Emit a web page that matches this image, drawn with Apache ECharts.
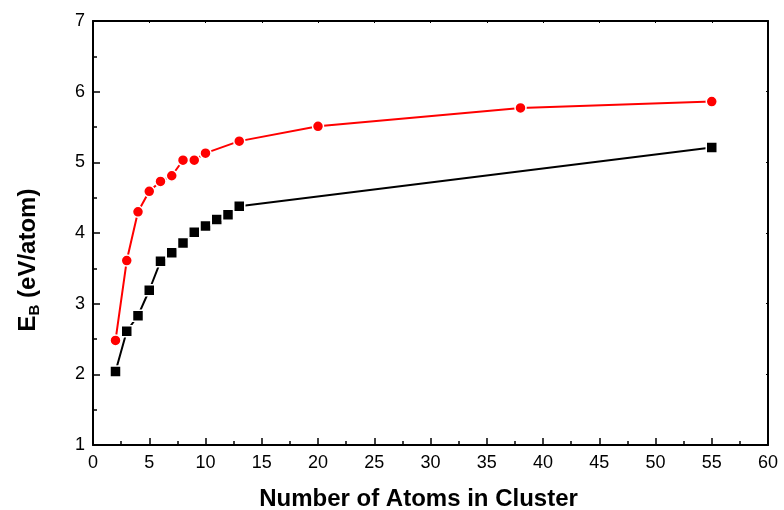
<!DOCTYPE html>
<html>
<head>
<meta charset="utf-8">
<script src="https://cdn.jsdelivr.net/npm/echarts@6/dist/echarts.min.js"></script>
<style>
html,body{margin:0;padding:0;background:#fff;}
#chart{width:784px;height:510px;}
</style>
</head>
<body>
<div id="chart"></div>
<script>
// cluster sizes and binding energies (eV/atom)
var redSizes = [2, 3, 4, 5, 6, 7, 8, 9, 10, 13, 20, 38, 55];
var redEnergy = [2.48, 3.61, 4.30, 4.59, 4.73, 4.81, 5.03, 5.03, 5.13, 5.30, 5.51, 5.77, 5.86];
var blackSizes = [2, 3, 4, 5, 6, 7, 8, 9, 10, 11, 12, 13, 55];
var blackEnergy = [2.04, 2.61, 2.83, 3.19, 3.60, 3.72, 3.86, 4.01, 4.10, 4.19, 4.26, 4.38, 5.21];

var xTicks = [0, 5, 10, 15, 20, 25, 30, 35, 40, 45, 50, 55, 60];
var yTicks = [1, 2, 3, 4, 5, 6, 7];

function pairs(xs, ys) {
    var out = [];
    for (var i = 0; i < xs.length; i++) out.push([xs[i], ys[i]]);
    return out;
}

var font = 'Liberation Sans, Arial, sans-serif';
var axisCommon = {
    axisLine: {show: true, onZero: false, lineStyle: {color: '#000', width: 2}},
    axisTick: {show: true, inside: true, length: 7, lineStyle: {color: '#000', width: 1.5}},
    minorTick: {show: true, splitNumber: 2, length: 4, lineStyle: {color: '#000', width: 1.5}},
    splitLine: {show: false}
};
// frame axes on top / right: tiny ticks, no labels
var frameAxis = {
    axisTick: {show: true, inside: true, length: 2, lineStyle: {color: '#000', width: 1}},
    minorTick: {show: false},
    axisLabel: {show: false}
};

var chart = echarts.init(document.getElementById('chart'));
var option = {
    animation: false,
    backgroundColor: '#fff',
    grid: {left: 93, right: 16, top: 21, bottom: 65, containLabel: false, outerBoundsMode: 'none'},
    xAxis: [
        Object.assign({}, axisCommon, {
            type: 'value', min: xTicks[0], max: xTicks[xTicks.length - 1], interval: 5,
            position: 'bottom',
            axisLabel: {color: '#000', fontSize: 18, fontFamily: font, margin: 9},
            name: 'Number of Atoms in Cluster',
            nameLocation: 'middle', nameGap: 42,
            nameTextStyle: {color: '#000', fontSize: 24, fontWeight: 'bold', fontFamily: font, padding: [0, 24, 0, 0]}
        }),
        Object.assign({}, axisCommon, frameAxis, {
            type: 'value', min: xTicks[0], max: xTicks[xTicks.length - 1], interval: 5,
            position: 'top'
        })
    ],
    yAxis: [
        Object.assign({}, axisCommon, {
            type: 'value', min: yTicks[0], max: yTicks[yTicks.length - 1], interval: 1,
            position: 'left',
            axisLabel: {color: '#000', fontSize: 18, fontFamily: font, margin: 8},
            name: '{e|E}{sub|B}{e| (eV/atom)}',
            nameLocation: 'middle', nameGap: 51, nameRotate: 90,
            nameTextStyle: {
                color: '#000', fontFamily: font, padding: [0, 54, 0, 0],
                rich: {
                    e: {fontSize: 24, fontWeight: 'bold', color: '#000', fontFamily: font},
                    sub: {fontSize: 15, fontWeight: 'bold', color: '#000', verticalAlign: 'bottom', padding: [12, 0, 0, 0], fontFamily: font}
                }
            }
        }),
        Object.assign({}, axisCommon, frameAxis, {
            type: 'value', min: yTicks[0], max: yTicks[yTicks.length - 1], interval: 1,
            position: 'right'
        })
    ],
    series: [
        {
            type: 'line', name: 'red', xAxisIndex: 0, yAxisIndex: 0,
            data: pairs(redSizes, redEnergy),
            symbol: 'circle', symbolSize: 11,
            lineStyle: {color: '#ff0000', width: 2},
            itemStyle: {color: '#ff0000', borderColor: '#fff', borderWidth: 1.5},
            z: 3
        },
        {
            type: 'line', name: 'black', xAxisIndex: 0, yAxisIndex: 0,
            data: pairs(blackSizes, blackEnergy),
            symbol: 'rect', symbolSize: 11,
            lineStyle: {color: '#000', width: 2},
            itemStyle: {color: '#000', borderColor: '#fff', borderWidth: 1.5},
            z: 2
        }
    ]
};
chart.setOption(option);
</script>
</body>
</html>
